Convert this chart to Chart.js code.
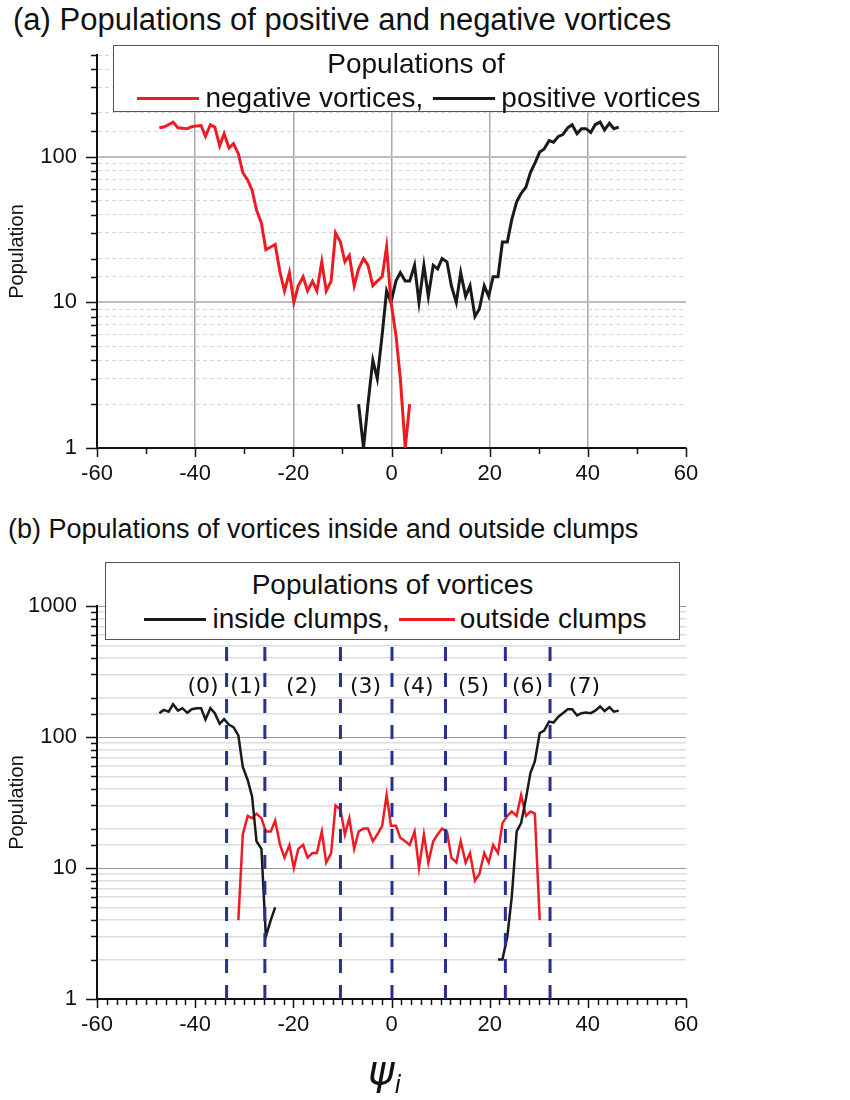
<!DOCTYPE html>
<html>
<head>
<meta charset="utf-8">
<script src="https://cdn.jsdelivr.net/npm/chart.js@4.4.1/dist/chart.umd.min.js"></script>
<style>
  body { margin: 0; background: #fff; }
  #page { position: relative; width: 850px; height: 1100px; overflow: hidden; font-family: "Liberation Sans", Arial, sans-serif; color: #111; }
  canvas { position: absolute; left: 0; }
  #chartA { top: 0; }
  #chartB { top: 500px; }
  .heading { position: absolute; white-space: nowrap; line-height: 1; }
  .legend { position: absolute; background: #fff; border: 1px solid #555; box-sizing: border-box; }
  .legend .row { position: absolute; left: 0; right: 0; display: flex; justify-content: center; align-items: center; white-space: nowrap; line-height: 1; }
  .legend .swatch { display: inline-block; width: 62px; height: 0; border-top: 3px solid; margin: 0 6px; }
  #psiLabel { position: absolute; left: 368px; top: 1050px; font-family: "DejaVu Sans", sans-serif; font-style: italic; font-size: 40px; line-height: 1; }
  #psiLabel sub { font-size: 24px; }
</style>
</head>
<body>
<div id="page">
  <div class="heading" id="titleA" style="left:13px; top:4px; font-size:31px;">(a) Populations of positive and negative vortices</div>
  <canvas id="chartA" width="850" height="500"></canvas>
  <div class="legend" style="left:113px; top:45px; width:606px; height:67px; font-size:28px;">
    <div class="row" style="top:4px;">Populations of</div>
    <div class="row" style="top:38px;"><span class="swatch" style="border-color:#ed1c24"></span>negative vortices,<span class="swatch" style="border-color:#1a1a1a; margin-left:10px"></span>positive vortices</div>
  </div>

  <div class="heading" id="titleB" style="left:8px; top:516px; font-size:27px;">(b) Populations of vortices inside and outside clumps</div>
  <canvas id="chartB" width="850" height="560"></canvas>
  <div class="legend" style="left:105px; top:562px; width:575px; height:78px; font-size:28px;">
    <div class="row" style="top:8px;">Populations of vortices</div>
    <div class="row" style="top:42px;"><span class="swatch" style="border-color:#1a1a1a"></span>inside clumps,<span class="swatch" style="border-color:#ed1c24; width:56px; margin-left:9px; margin-right:5px"></span>outside clumps</div>
  </div>
  <div id="psiLabel">ψ<sub>i</sub></div>
</div>

<script>
// bin centres of psi_i (same bins in both panels)
const psiBins = [
  -47.3, -46.4, -45.4, -44.5, -43.5, -42.6, -41.6, -40.7, -39.7, -38.8,
  -37.9, -36.9, -36.0, -35.0, -34.1, -33.1, -32.2, -31.2, -30.3, -29.3,
  -28.4, -27.5, -26.5, -25.6, -24.6, -23.7, -22.7, -21.8, -20.8, -19.9,
  -19.0, -18.0, -17.1, -16.1, -15.2, -14.2, -13.3, -12.3, -11.4, -10.4,
  -9.5, -8.6, -7.6, -6.7, -5.7, -4.8, -3.8, -2.9, -1.9, -1.0,
  -0.1, 0.9, 1.8, 2.8, 3.7, 4.7, 5.6, 6.6, 7.5, 8.5,
  9.4, 10.3, 11.3, 12.2, 13.2, 14.1, 15.1, 16.0, 17.0, 17.9,
  18.9, 19.8, 20.7, 21.7, 22.6, 23.6, 24.5, 25.5, 26.4, 27.4,
  28.3, 29.2, 30.2, 31.1, 32.1, 33.0, 34.0, 34.9, 35.9, 36.8,
  37.8, 38.7, 39.6, 40.6, 41.5, 42.5, 43.4, 44.4, 45.3, 46.3
];

// (a) negative vortices, starts at bin 0
const negativeStart = 0;
const negativePop = [158, 160, 166, 173, 158, 157, 156, 161, 163, 164, 138, 166, 160, 119, 144, 115, 123, 105, 78, 69,
  59, 43, 35, 23, 24, 25, 16, 12, 16, 10, 13, 15, 12, 14, 12, 19, 12, 14, 30, 26,
  19, 21, 13, 17, 20, 18, 13, 14, 15, 24, 10, 6, 3, 1, 2];

// (a) positive vortices, starts at bin 43
const positiveStart = 43;
const positivePop = [2, 1, 2, 4, 3, 6, 12, 10, 14, 16, 14, 14, 18, 10, 18, 11, 18, 17, 20, 19,
  13, 10, 16, 11, 13, 8, 9, 13, 11, 15, 15, 26, 26, 37, 49, 56, 62, 78, 90, 108,
  113, 129, 126, 138, 142, 158, 166, 144, 156, 156, 147, 166, 173, 153, 170, 156, 160];

// (b) inside clumps, two pieces
const insideLeftStart = 0;
const insideLeftPop = [152, 161, 156, 178, 159, 166, 153, 163, 166, 166, 136, 166, 152, 126, 137, 124, 119, 103, 59, 47,
  35, 16, 14, 3, 4, 5];
const insideRightStart = 73;
const insideRightPop = [2, 2, 3, 6, 19, 22, 34, 53, 65, 107, 112, 131, 129, 143, 152, 163, 163, 146, 152, 154,
  152, 159, 171, 158, 169, 156, 159];

// (b) outside clumps, starts at bin 17
const outsideStart = 17;
const outsidePop = [4, 18, 25, 24, 26, 24, 19, 19, 23, 15, 12, 15, 10, 14, 15, 12, 13, 13, 19, 11,
  13, 30, 28, 18, 24, 14, 19, 20, 20, 16, 18, 21, 36, 21, 21, 17, 16, 15, 19, 10,
  18, 11, 16, 18, 20, 19, 12, 11, 16, 11, 13, 8, 9, 13, 11, 15, 13, 22, 25, 27,
  25, 36, 25, 27, 26, 4];

// clump boundaries and region names in (b)
const clumpBounds = [-33.6, -25.8, -10.4, 0.1, 11.0, 23.2, 32.3];
const regionNames = ['(0)', '(1)', '(2)', '(3)', '(4)', '(5)', '(6)', '(7)'];
const regionPsi = [-38.4, -29.7, -18.3, -5.3, 5.4, 16.7, 27.7, 39.3];
const regionLabelPop = 240;

const xLabelValues = [-60, -40, -20, 0, 20, 40, 60];

const RED = '#ed1c24';
const BLACK = '#1a1a1a';
const BLUE = '#27318f';

Chart.defaults.font.family = "'Liberation Sans', Arial, sans-serif";
Chart.defaults.color = '#111';

const toPoints = (start, values) => values.map((v, k) => ({ x: psiBins[start + k], y: v }));
const isDecade = v => Math.abs(Math.log10(v) - Math.round(Math.log10(v))) < 1e-6;

// tick marks drawn outside the axes, long on decades / labelled values
const tickMarks = {
  id: 'tickMarks',
  afterDraw(chart, args, opts) {
    const c = chart.ctx;
    const xs = chart.scales.x;
    const ys = chart.scales.y;
    c.save();
    c.strokeStyle = '#111';
    c.lineWidth = 1.5;
    c.beginPath();
    ys.ticks.forEach(t => {
      const y = Math.round(ys.getPixelForValue(t.value)) + 0.5;
      const len = isDecade(t.value) ? 11 : 6;
      c.moveTo(xs.left - len, y);
      c.lineTo(xs.left, y);
    });
    xs.ticks.forEach(t => {
      const x = Math.round(xs.getPixelForValue(t.value)) + 0.5;
      const len = xLabelValues.includes(t.value) ? opts.major : opts.minor;
      c.moveTo(x, ys.bottom);
      c.lineTo(x, ys.bottom + len);
    });
    c.stroke();
    c.restore();
  }
};

// dashed clump boundaries and region names for panel (b)
const clumpMarks = {
  id: 'clumpMarks',
  afterDatasetsDraw(chart) {
    const c = chart.ctx;
    const xs = chart.scales.x;
    const ys = chart.scales.y;
    c.save();
    c.strokeStyle = BLUE;
    c.lineWidth = 3;
    c.setLineDash([14, 12]);
    clumpBounds.forEach(b => {
      const x = xs.getPixelForValue(b);
      c.beginPath();
      c.moveTo(x, ys.bottom);
      c.lineTo(x, ys.top);
      c.stroke();
    });
    c.setLineDash([]);
    c.fillStyle = '#111';
    c.font = '22px "DejaVu Sans", sans-serif';
    c.textAlign = 'center';
    c.textBaseline = 'middle';
    regionNames.forEach((name, k) => {
      c.fillText(name, xs.getPixelForValue(regionPsi[k]), ys.getPixelForValue(regionLabelPop));
    });
    c.restore();
  }
};

function lineSet(points, color, width) {
  return { data: points, borderColor: color, borderWidth: width, pointRadius: 0, tension: 0, fill: false };
}

function makeOptions(yMax, xStep, gridStyle, padBottom, topPad) {
  return {
    responsive: false,
    animation: false,
    layout: { padding: { left: 0, right: 164, top: topPad, bottom: padBottom } },
    plugins: { legend: { display: false }, tooltip: { enabled: false } },
    scales: {
      x: {
        type: 'linear', min: -60, max: 60,
        ticks: {
          stepSize: xStep, autoSkip: false, maxRotation: 0, padding: 13,
          font: { size: 22 },
          callback: v => xLabelValues.includes(v) ? String(v) : ''
        },
        grid: {
          drawTicks: false,
          display: gridStyle === 'a',
          color: ctx => (gridStyle === 'a' && ctx.tick && ctx.tick.value % 20 === 0 && Math.abs(ctx.tick.value) < 60) ? '#a8a8a8' : 'rgba(0,0,0,0)',
          lineWidth: 1.5
        },
        border: { color: '#111', width: 2 },
        afterFit: s => { s.height = 40; }
      },
      y: {
        type: 'logarithmic', min: 1, max: yMax,
        ticks: {
          autoSkip: false, padding: 20, font: { size: 22 },
          callback: v => isDecade(v) ? String(Math.round(v)) : ''
        },
        grid: {
          drawTicks: false,
          color: ctx => {
            if (!ctx.tick) return '#ccc';
            if (gridStyle === 'a') return isDecade(ctx.tick.value) ? '#bdbdbd' : '#d6d6d6';
            return isDecade(ctx.tick.value) ? '#9a9a9a' : '#dddddd';
          },
          lineWidth: ctx => {
            if (!ctx.tick) return 1;
            if (gridStyle === 'a') return isDecade(ctx.tick.value) ? 2 : 1;
            return isDecade(ctx.tick.value) ? 1 : 1.5;
          }
        },
        border: {
          color: '#111', width: 2,
          dash: ctx => (gridStyle === 'a' && ctx.tick && !isDecade(ctx.tick.value)) ? [4, 3] : []
        },
        title: { display: true, text: 'Population', font: { size: 20 }, padding: { top: 5, bottom: 0 } },
        afterFit: s => { s.width = 97; }
      }
    }
  };
}

const optsA = makeOptions(500, 10, 'a', 12, 55);
optsA.plugins.tickMarks = { major: 9, minor: 6 };
new Chart(document.getElementById('chartA'), {
  type: 'line',
  data: {
    datasets: [
      lineSet(toPoints(negativeStart, negativePop), RED, 3),
      lineSet(toPoints(positiveStart, positivePop), BLACK, 3)
    ]
  },
  options: optsA,
  plugins: [tickMarks]
});

const optsB = makeOptions(1000, 2, 'b', 21, 106);
optsB.plugins.tickMarks = { major: 9, minor: 6 };
new Chart(document.getElementById('chartB'), {
  type: 'line',
  data: {
    datasets: [
      lineSet(toPoints(insideLeftStart, insideLeftPop), BLACK, 2.5),
      lineSet(toPoints(insideRightStart, insideRightPop), BLACK, 2.5),
      lineSet(toPoints(outsideStart, outsidePop), RED, 2.5)
    ]
  },
  options: optsB,
  plugins: [clumpMarks, tickMarks]
});
</script>
</body>
</html>
